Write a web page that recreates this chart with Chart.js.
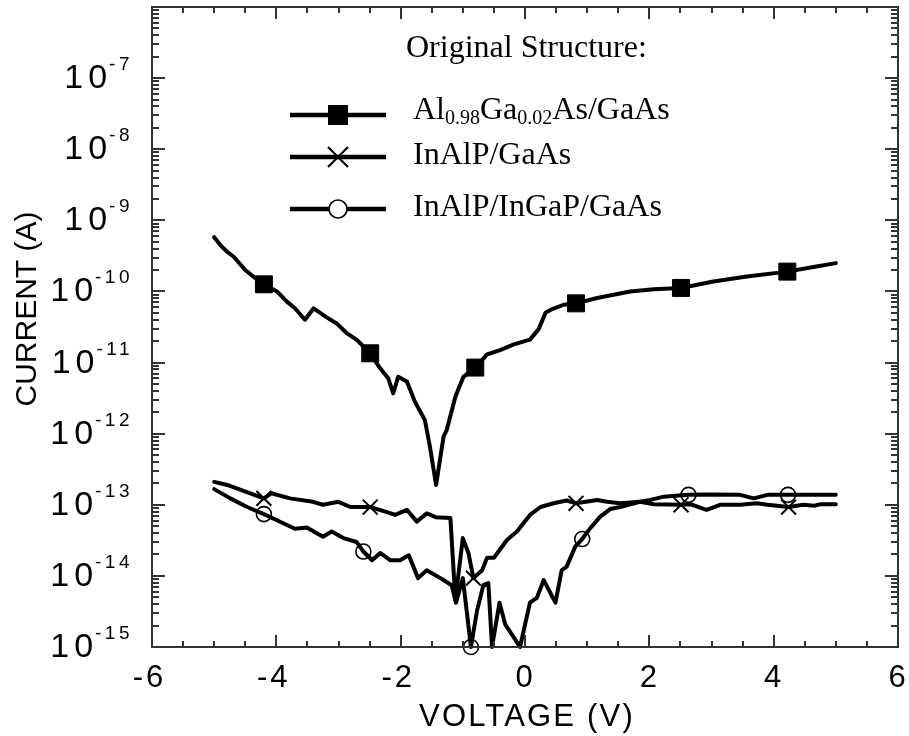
<!DOCTYPE html>
<html>
<head>
<meta charset="utf-8">
<script src="https://cdn.jsdelivr.net/npm/chart.js@4.4.1/dist/chart.umd.min.js"></script>
<style>
  html, body { margin: 0; padding: 0; background: #fff; }
  canvas { display: block; }
</style>
</head>
<body>
<canvas id="ivChart" width="909" height="736"></canvas>
<script>
// I-V curves for the three barrier structures

const alGaAsVoltage = [-5.0, -4.88, -4.79, -4.69, -4.50, -4.40, -4.20, -3.99, -3.83, -3.70, -3.54, -3.40, -3.22, -3.03, -2.87, -2.71, -2.49, -2.33, -2.20, -2.12, -2.04, -1.90, -1.77, -1.61, -1.53, -1.43, -1.31, -1.26, -1.12, -0.99, -0.80, -0.61, -0.40, -0.18, 0.08, 0.22, 0.33, 0.43, 0.62, 0.82, 1.16, 1.69, 2.07, 2.51, 3.03, 3.57, 4.22, 4.64, 5.0];
const alGaAsCurrent = [5.8e-10, 4.3e-10, 3.6e-10, 3.1e-10, 2.0e-10, 1.7e-10, 1.26e-10, 1.0e-10, 7.2e-11, 5.8e-11, 4.0e-11, 5.8e-11, 4.5e-11, 3.55e-11, 2.6e-11, 2.1e-11, 1.35e-11, 8.3e-12, 6.0e-12, 3.7e-12, 6.3e-12, 5.4e-12, 2.8e-12, 1.55e-12, 6.6e-13, 1.9e-13, 9.1e-13, 1.12e-12, 3.3e-12, 6.3e-12, 8.5e-12, 1.3e-11, 1.5e-11, 1.8e-11, 2.1e-11, 2.95e-11, 5.0e-11, 5.6e-11, 6.5e-11, 6.8e-11, 8.1e-11, 1.0e-10, 1.07e-10, 1.12e-10, 1.38e-10, 1.62e-10, 1.9e-10, 2.2e-10, 2.5e-10];
const alGaAsMarkers = [-4.20, -2.49, -0.80, 0.82, 2.51, 4.22];

const inAlPVoltage = [-5.0, -4.79, -4.20, -4.08, -3.78, -3.41, -3.25, -3.00, -2.81, -2.49, -2.22, -2.09, -1.90, -1.74, -1.58, -1.44, -1.20, -1.12, -1.00, -0.91, -0.83, -0.69, -0.61, -0.50, -0.29, -0.13, 0.08, 0.25, 0.46, 0.67, 0.82, 1.16, 1.32, 1.53, 1.85, 2.07, 2.51, 2.66, 2.92, 3.14, 3.46, 3.73, 3.90, 4.24, 4.48, 4.65, 4.76, 5.0];
const inAlPCurrent = [2.1e-13, 1.9e-13, 1.23e-13, 1.45e-13, 1.23e-13, 1.1e-13, 1.0e-13, 1.1e-13, 9.3e-14, 9.3e-14, 7.9e-14, 7.2e-14, 8.5e-14, 5.8e-14, 7.6e-14, 6.7e-14, 6.5e-14, 4.6e-15, 3.4e-14, 2.1e-14, 9.3e-15, 1.2e-14, 1.8e-14, 1.8e-14, 3.2e-14, 4.2e-14, 7.2e-14, 9.3e-14, 1.05e-13, 1.15e-13, 1.05e-13, 1.17e-13, 1.1e-13, 1.05e-13, 1.1e-13, 1.02e-13, 1.0e-13, 1.02e-13, 8.5e-14, 1.0e-13, 1.0e-13, 1.05e-13, 1.0e-13, 9.3e-14, 1.0e-13, 9.7e-14, 1.02e-13, 1.02e-13];
const inAlPMarkers = [-4.20, -2.49, -0.83, 0.82, 2.51, 4.24];

const inGaPVoltage = [-5.0, -4.74, -4.47, -4.20, -3.89, -3.70, -3.51, -3.25, -3.11, -2.92, -2.71, -2.60, -2.46, -2.33, -2.17, -2.01, -1.87, -1.72, -1.58, -1.36, -1.18, -1.11, -1.00, -0.87, -0.77, -0.67, -0.59, -0.53, -0.41, -0.32, -0.08, 0.08, 0.19, 0.30, 0.49, 0.59, 0.67, 0.81, 0.92, 1.05, 1.21, 1.37, 1.53, 1.85, 2.02, 2.23, 2.63, 2.98, 3.46, 3.68, 3.90, 4.23, 4.60, 5.0];
const inGaPCurrent = [1.66e-13, 1.23e-13, 9.3e-14, 7.4e-14, 5.5e-14, 4.6e-14, 4.8e-14, 3.55e-14, 4.2e-14, 3.4e-14, 3.0e-14, 2.2e-14, 1.66e-14, 2.1e-14, 1.66e-14, 1.66e-14, 1.95e-14, 9.3e-15, 1.2e-14, 9.3e-15, 7.4e-15, 4.2e-15, 9.3e-15, 1e-15, 3.3e-15, 7.4e-15, 7.9e-15, 1e-15, 4.2e-15, 2.1e-15, 1e-15, 4.2e-15, 4.9e-15, 8.7e-15, 4.2e-15, 1.2e-14, 1.35e-14, 2.6e-14, 3.3e-14, 4.7e-14, 6.8e-14, 8.7e-14, 9.3e-14, 1.1e-13, 1.17e-13, 1.3e-13, 1.38e-13, 1.4e-13, 1.38e-13, 1.23e-13, 1.38e-13, 1.38e-13, 1.38e-13, 1.38e-13];
const inGaPMarkers = [-4.20, -2.60, -0.87, 0.92, 2.63, 4.23];

const xTickValues = [-6, -4, -2, 0, 2, 4, 6];
const xTickLabels = ['-6', '-4', '-2', '0', '2', '4', '6'];
const yTickValues = [1e-7, 1e-8, 1e-9, 1e-10, 1e-11, 1e-12, 1e-13, 1e-14, 1e-15];
const yTickExponents = ['-7', '-8', '-9', '-10', '-11', '-12', '-13', '-14', '-15'];

const legendTitle = 'Original Structure:';
// text parts, true = subscript
const legendRows = [
    [['Al', false], ['0.98', true], ['Ga', false], ['0.02', true], ['As/GaAs', false]],
    [['InAlP/GaAs', false]],
    [['InAlP/InGaP/GaAs', false]]
];
const legendMarkers = ['rect', 'crossRot', 'circle'];

const SANS = "'Liberation Sans', Arial, sans-serif";
const SERIF = "'Liberation Serif', 'Times New Roman', serif";

function toPoints(xs, ys) {
    return xs.map((x, i) => ({ x: x, y: ys[i] }));
}

function markerRadius(markers, r) {
    return ctx => (ctx.raw && markers.includes(ctx.raw.x)) ? r : 0;
}

function drawMarker(ctx, style, x, y) {
    ctx.save();
    ctx.strokeStyle = '#000';
    ctx.fillStyle = '#000';
    if (style === 'rect') {
        ctx.fillRect(x - 10, y - 10, 20, 20);
    } else if (style === 'crossRot') {
        ctx.lineWidth = 2.2;
        ctx.beginPath();
        ctx.moveTo(x - 10, y - 10); ctx.lineTo(x + 10, y + 10);
        ctx.moveTo(x + 10, y - 10); ctx.lineTo(x - 10, y + 10);
        ctx.stroke();
    } else {
        ctx.fillStyle = '#fff';
        ctx.lineWidth = 1.6;
        ctx.beginPath();
        ctx.arc(x, y, 9, 0, Math.PI * 2);
        ctx.fill();
        ctx.stroke();
    }
    ctx.restore();
}

// frame, inward ticks, tick labels, axis titles and the legend
const frameAndText = {
    id: 'frameAndText',
    afterDatasetsDraw(chart) {
        const ctx = chart.ctx;
        const area = chart.chartArea;
        const xs = chart.scales.x;
        const ys = chart.scales.y;

        ctx.save();
        ctx.strokeStyle = '#333';
        ctx.lineWidth = 2;
        ctx.strokeRect(area.left, area.top, area.right - area.left, area.bottom - area.top);

        // x ticks, bottom and top
        ctx.beginPath();
        for (let v = -6; v <= 6.001; v += 0.5) {
            const px = Math.round(xs.getPixelForValue(v));
            const len = Number.isInteger(v / 2) ? 12 : 6;
            ctx.moveTo(px, area.bottom); ctx.lineTo(px, area.bottom - len);
            ctx.moveTo(px, area.top); ctx.lineTo(px, area.top + len);
        }
        // y ticks, left and right
        for (let e = -15; e <= -6; e++) {
            for (let m = 1; m <= 9; m++) {
                if (e === -6 && m > 1) break;
                const py = Math.round(ys.getPixelForValue(m * Math.pow(10, e)));
                const len = m === 1 ? 13 : 7;
                ctx.moveTo(area.left, py); ctx.lineTo(area.left + len, py);
                ctx.moveTo(area.right, py); ctx.lineTo(area.right - len, py);
            }
        }
        ctx.stroke();

        ctx.fillStyle = '#000';
        // x tick labels
        ctx.font = '31px ' + SANS;
        ctx.textAlign = 'center';
        ctx.textBaseline = 'alphabetic';
        ctx.letterSpacing = '3px';
        xTickValues.forEach((v, i) => {
            const shift = v < 0 ? -2.5 : 0.5;
            ctx.fillText(xTickLabels[i], xs.getPixelForValue(v) + shift, 687);
        });

        // y tick labels: 10 with superscript exponent
        ctx.textAlign = 'left';
        yTickValues.forEach((v, i) => {
            const py = ys.getPixelForValue(v);
            ctx.font = '19px ' + SANS;
            ctx.letterSpacing = '3.5px';
            const supW = ctx.measureText(yTickExponents[i]).width;
            const supX = 133 - supW;
            ctx.fillText(yTickExponents[i], supX, py - 8);
            ctx.font = '34px ' + SANS;
            ctx.letterSpacing = '5px';
            const baseW = ctx.measureText('10').width;
            ctx.fillText('10', supX + 3 - baseW, py + 10);
        });
        ctx.letterSpacing = '0px';

        // axis titles
        ctx.font = '31px ' + SANS;
        ctx.textAlign = 'center';
        ctx.letterSpacing = '2.2px';
        ctx.fillText('VOLTAGE (V)', 527, 726);
        ctx.letterSpacing = '0px';
        ctx.save();
        ctx.translate(36, 309);
        ctx.rotate(-Math.PI / 2);
        ctx.font = '30px ' + SANS;
        ctx.fillText('CURRENT (A)', 0, 0);
        ctx.restore();

        // legend
        ctx.textAlign = 'left';
        ctx.font = '32px ' + SERIF;
        ctx.fillText(legendTitle, 406, 57);
        const rowLineY = [115, 157, 209];
        const rowBase = [119, 164, 216];
        legendRows.forEach((parts, r) => {
            ctx.strokeStyle = '#000';
            ctx.lineWidth = 4.5;
            ctx.beginPath();
            ctx.moveTo(290, rowLineY[r]);
            ctx.lineTo(386, rowLineY[r]);
            ctx.stroke();
            drawMarker(ctx, legendMarkers[r], 338, rowLineY[r]);
            let tx = 413;
            parts.forEach(([text, sub]) => {
                ctx.font = (sub ? '20px ' : '32px ') + SERIF;
                ctx.fillText(text, tx, rowBase[r] + (sub ? 5 : 0));
                tx += ctx.measureText(text).width;
            });
        });
        ctx.restore();
    }
};

const lineBase = {
    borderColor: '#000',
    borderWidth: 4,
    tension: 0,
    borderJoinStyle: 'round',
    borderCapStyle: 'round',
    pointBorderColor: '#000',
    pointHoverRadius: 0,
    fill: false
};

new Chart(document.getElementById('ivChart'), {
    type: 'line',
    data: {
        datasets: [
            Object.assign({}, lineBase, {
                label: 'Al0.98Ga0.02As/GaAs',
                data: toPoints(alGaAsVoltage, alGaAsCurrent),
                pointStyle: 'rect',
                pointRadius: markerRadius(alGaAsMarkers, 12),
                pointBackgroundColor: '#000',
                pointBorderWidth: 1
            }),
            Object.assign({}, lineBase, {
                label: 'InAlP/GaAs',
                data: toPoints(inAlPVoltage, inAlPCurrent),
                pointStyle: 'crossRot',
                pointRadius: markerRadius(inAlPMarkers, 10.5),
                pointBorderWidth: 2
            }),
            Object.assign({}, lineBase, {
                label: 'InAlP/InGaP/GaAs',
                data: toPoints(inGaPVoltage, inGaPCurrent),
                pointStyle: 'circle',
                pointRadius: markerRadius(inGaPMarkers, 7.5),
                pointBackgroundColor: 'rgba(255,255,255,0)',
                pointBorderWidth: 1.6,
                clip: false
            })
        ]
    },
    options: {
        responsive: false,
        animation: false,
        events: [],
        layout: { padding: { left: 152, right: 11, top: 7, bottom: 89 } },
        plugins: {
            legend: { display: false },
            tooltip: { enabled: false }
        },
        scales: {
            x: { type: 'linear', min: -6, max: 6, display: false },
            y: { type: 'logarithmic', min: 1e-15, max: 1e-6, display: false }
        }
    },
    plugins: [frameAndText]
});
</script>
</body>
</html>
